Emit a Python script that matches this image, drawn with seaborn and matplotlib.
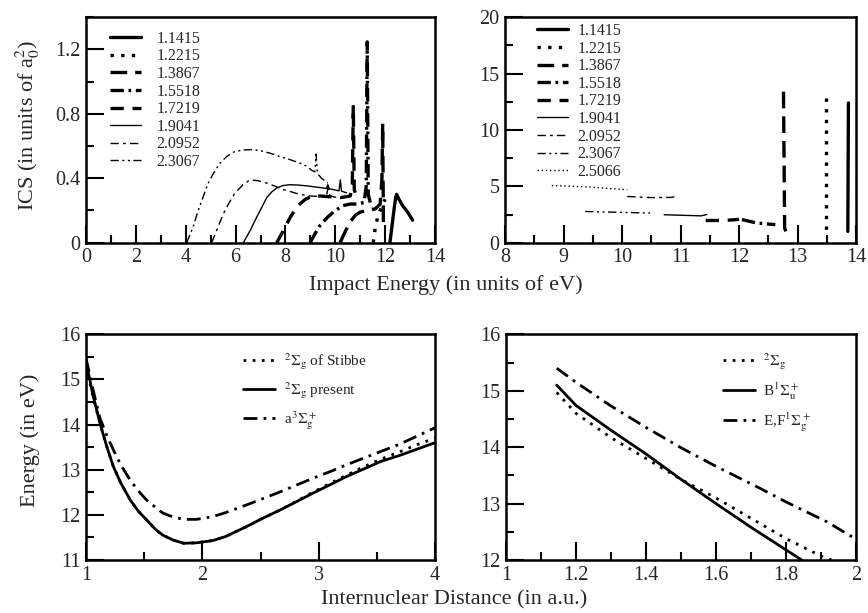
import matplotlib
matplotlib.use("Agg")
import matplotlib.pyplot as plt
import seaborn as sns
from matplotlib.ticker import MultipleLocator, FuncFormatter

sns.set_style("ticks")
plt.rcParams["font.family"] = ["Liberation Serif", "DejaVu Serif"]
plt.rcParams["mathtext.fontset"] = "stix"

# ---------------- data: top-left panel (ICS vs impact energy) ----------------
r_labels_tl = ["1.1415", "1.2215", "1.3867", "1.5518", "1.7219", "1.9041", "2.0952", "2.3067"]

tl_1_1415_x = [12.19, 12.27, 12.35, 12.42, 12.46, 12.55, 12.7, 12.9, 13.1]
tl_1_1415_y = [0.0, 0.1, 0.2, 0.28, 0.30, 0.27, 0.23, 0.19, 0.14]
tl_1_2215_x = [11.52, 11.6, 11.7, 11.8, 11.9, 12.0]
tl_1_2215_y = [0.0, 0.09, 0.16, 0.2, 0.24, 0.27]
tl_1_3867_x = [10.19, 10.4, 10.6, 10.8, 11.0, 11.3, 11.6, 11.8, 11.87, 11.9, 11.93]
tl_1_3867_y = [0.0, 0.07, 0.13, 0.17, 0.19, 0.2, 0.21, 0.24, 0.4, 0.74, 0.08]
tl_1_5518_x = [8.99, 9.2, 9.4, 9.7, 10.0, 10.3, 10.6, 10.9, 11.15, 11.24, 11.28, 11.32, 11.45]
tl_1_5518_y = [0.0, 0.06, 0.11, 0.16, 0.2, 0.23, 0.24, 0.24, 0.25, 0.35, 1.247, 0.3, 0.22]
tl_1_7219_x = [7.65, 7.9, 8.2, 8.5, 8.8, 9.1, 9.4, 9.8, 10.2, 10.6, 10.68, 10.72, 10.76, 10.9]
tl_1_7219_y = [0.0, 0.07, 0.16, 0.23, 0.27, 0.29, 0.29, 0.285, 0.28, 0.29, 0.35, 0.855, 0.33, 0.26]
tl_1_9041_x = [6.31, 6.6, 6.85, 7.05, 7.25, 7.45, 7.65, 7.9, 8.18, 8.5, 8.85, 9.25, 9.65,
               9.7, 9.75, 10.0, 10.15, 10.2, 10.25, 10.45]
tl_1_9041_y = [0.0, 0.08, 0.16, 0.22, 0.28, 0.315, 0.34, 0.355, 0.36, 0.358, 0.353, 0.345, 0.337,
               0.36, 0.335, 0.327, 0.322, 0.39, 0.32, 0.31]
tl_2_0952_x = [5.04, 5.3, 5.51, 5.75, 5.98, 6.3, 6.58, 6.9, 7.25, 7.6, 7.91, 8.25, 8.58, 9.0,
               9.39, 9.65, 9.72, 9.78, 10.19, 10.46]
tl_2_0952_y = [0.0, 0.1, 0.18, 0.25, 0.31, 0.36, 0.39, 0.385, 0.37, 0.35, 0.33, 0.315, 0.30, 0.29,
               0.287, 0.29, 0.36, 0.29, 0.277, 0.277]
tl_2_3067_x = [4.04, 4.3, 4.5, 4.71, 4.9, 5.11, 5.35, 5.64, 5.95, 6.31, 6.65, 6.98, 7.4, 7.78,
               8.2, 8.58, 8.85, 9.05, 9.18, 9.23, 9.28, 9.45, 9.7]
tl_2_3067_y = [0.0, 0.10, 0.2, 0.29, 0.37, 0.43, 0.49, 0.535, 0.565, 0.576, 0.578, 0.572, 0.555,
               0.535, 0.515, 0.494, 0.475, 0.45, 0.44, 0.551, 0.43, 0.40, 0.37]

# ---------------- data: top-right panel ----------------
r_labels_tr = ["1.1415", "1.2215", "1.3867", "1.5518", "1.7219", "1.9041", "2.0952", "2.3067", "2.5066"]

tr_1_1415_x = [13.87, 13.86]
tr_1_1415_y = [12.4, 1.0]
tr_1_2215_x = [13.49, 13.49]
tr_1_2215_y = [12.8, 1.15]
tr_1_3867_x = [12.76, 12.78, 12.80]
tr_1_3867_y = [13.4, 1.3, 1.0]
tr_1_5518_x = [12.05, 12.3, 12.62]
tr_1_5518_y = [2.05, 1.75, 1.6]
tr_1_7219_x = [11.43, 11.75, 12.0]
tr_1_7219_y = [1.97, 1.97, 2.07]
tr_1_9041_x = [10.72, 11.1, 11.35, 11.45]
tr_1_9041_y = [2.48, 2.42, 2.38, 2.5]
tr_2_0952_x = [10.09, 10.5, 10.85, 10.93]
tr_2_0952_y = [4.1, 4.0, 4.02, 4.12]
tr_2_3067_x = [9.37, 9.9, 10.48]
tr_2_3067_y = [2.77, 2.7, 2.63]
tr_2_5066_x = [8.8, 9.4, 10.09]
tr_2_5066_y = [5.07, 4.95, 4.7]

# ---------------- data: bottom-left panel (potential curves) ----------------
bl_r = [1.0, 1.06, 1.12, 1.18, 1.235, 1.3, 1.38, 1.45, 1.52, 1.6, 1.66, 1.75, 1.84, 1.95,
        2.09, 2.2, 2.38, 2.5, 2.67, 2.8, 2.95, 3.1, 3.24, 3.4, 3.53, 3.7, 3.85, 4.0]
bl_stibbe = [15.3, 14.62, 14.03, 13.5, 13.07, 12.7, 12.33, 12.08, 11.89, 11.67, 11.55, 11.44, 11.37, 11.38,
             11.43, 11.52, 11.74, 11.9, 12.11, 12.29, 12.5, 12.7, 12.88, 13.08, 13.23, 13.4, 13.56, 13.7]
bl_present = [15.4, 14.65, 14.03, 13.5, 13.07, 12.7, 12.33, 12.08, 11.89, 11.67, 11.55, 11.44, 11.37, 11.38,
              11.43, 11.52, 11.74, 11.9, 12.11, 12.28, 12.48, 12.67, 12.85, 13.03, 13.18, 13.32, 13.46, 13.6]
bl_triplet = [15.47, 14.78, 14.14, 13.75, 13.44, 13.1, 12.77, 12.53, 12.33, 12.16, 12.04, 11.95, 11.9, 11.9,
              11.96, 12.05, 12.22, 12.34, 12.51, 12.65, 12.81, 12.96, 13.11, 13.27, 13.4, 13.57, 13.75, 13.93]

# ---------------- data: bottom-right panel ----------------
br_r_sig = [1.145, 1.2, 1.3, 1.4, 1.5, 1.6, 1.7, 1.8, 1.9, 1.93]
br_sig = [14.97, 14.6, 14.17, 13.8, 13.43, 13.1, 12.74, 12.38, 12.07, 12.0]
br_r_B = [1.145, 1.2, 1.3, 1.4, 1.5, 1.6, 1.7, 1.8, 1.845]
br_B = [15.1, 14.74, 14.3, 13.88, 13.43, 13.0, 12.58, 12.18, 12.0]
br_r_EF = [1.145, 1.2, 1.3, 1.4, 1.5, 1.6, 1.726, 1.8, 1.916, 2.0]
br_EF = [15.4, 15.15, 14.73, 14.35, 13.99, 13.66, 13.27, 13.03, 12.68, 12.37]

# ---------------- styles ----------------
THICK = 2.4
THIN = 1.0
styles = {
    "1.1415": dict(lw=THICK, ls="-"),
    "1.2215": dict(lw=THICK, ls=(0, (1, 2.2))),
    "1.3867": dict(lw=THICK, ls=(0, (5, 2.4))),
    "1.5518": dict(lw=THICK, ls=(0, (4, 1.4, 0.8, 1.4))),
    "1.7219": dict(lw=THICK, ls=(0, (4, 2.6))),
    "1.9041": dict(lw=THIN, ls="-"),
    "2.0952": dict(lw=THIN, ls=(0, (6, 3, 2, 3))),
    "2.3067": dict(lw=THIN, ls=(0, (6, 2.5, 1.5, 2.5, 1.5, 2.5))),
    "2.5066": dict(lw=THIN, ls=(0, (1, 2))),
}

tl_series = {
    "1.1415": (tl_1_1415_x, tl_1_1415_y), "1.2215": (tl_1_2215_x, tl_1_2215_y),
    "1.3867": (tl_1_3867_x, tl_1_3867_y), "1.5518": (tl_1_5518_x, tl_1_5518_y),
    "1.7219": (tl_1_7219_x, tl_1_7219_y), "1.9041": (tl_1_9041_x, tl_1_9041_y),
    "2.0952": (tl_2_0952_x, tl_2_0952_y), "2.3067": (tl_2_3067_x, tl_2_3067_y),
}
tr_series = {
    "1.1415": (tr_1_1415_x, tr_1_1415_y), "1.2215": (tr_1_2215_x, tr_1_2215_y),
    "1.3867": (tr_1_3867_x, tr_1_3867_y), "1.5518": (tr_1_5518_x, tr_1_5518_y),
    "1.7219": (tr_1_7219_x, tr_1_7219_y), "1.9041": (tr_1_9041_x, tr_1_9041_y),
    "2.0952": (tr_2_0952_x, tr_2_0952_y), "2.3067": (tr_2_3067_x, tr_2_3067_y),
    "2.5066": (tr_2_5066_x, tr_2_5066_y),
}

fig = plt.figure(figsize=(8.68, 6.13), dpi=100)
ax_tl = fig.add_axes([0.0991, 0.6041, 0.4021, 0.3677])
ax_tr = fig.add_axes([0.5818, 0.6041, 0.4044, 0.3677])
ax_bl = fig.add_axes([0.0991, 0.0865, 0.4021, 0.3681])
ax_br = fig.add_axes([0.5829, 0.0865, 0.4032, 0.3681])


def fmt_num(v, pos):
    if abs(v - round(v)) < 1e-9:
        return "%d" % round(v)
    return ("%.1f" % v)


def style_ax(ax, xlim, ylim, xmaj, xmin, ymaj, ymin):
    ax.set_xlim(*xlim)
    ax.set_ylim(*ylim)
    ax.xaxis.set_major_locator(MultipleLocator(xmaj))
    ax.xaxis.set_minor_locator(MultipleLocator(xmin))
    ax.yaxis.set_major_locator(MultipleLocator(ymaj))
    ax.yaxis.set_minor_locator(MultipleLocator(ymin))
    ax.xaxis.set_major_formatter(FuncFormatter(fmt_num))
    ax.yaxis.set_major_formatter(FuncFormatter(fmt_num))
    ax.tick_params(which="both", direction="in", top=False, right=False, width=1.5, color="black")
    ax.tick_params(which="major", length=13, labelsize=14.5, pad=4)
    ax.tick_params(which="minor", length=6)
    for s in ax.spines.values():
        s.set_linewidth(1.8)
        s.set_color("black")
    ax.set_xlabel("")
    ax.set_ylabel("")


for lab in r_labels_tl:
    xs, ys = tl_series[lab]
    st = styles[lab]
    sns.lineplot(x=xs, y=ys, ax=ax_tl, color="black", linewidth=st["lw"], linestyle=st["ls"],
                 sort=False, estimator=None, label=lab)
for lab in r_labels_tr:
    xs, ys = tr_series[lab]
    st = styles[lab]
    sns.lineplot(x=xs, y=ys, ax=ax_tr, color="black", linewidth=st["lw"], linestyle=st["ls"],
                 sort=False, estimator=None, label=lab)

sns.lineplot(x=bl_r, y=bl_stibbe, ax=ax_bl, color="black", linewidth=2.0, linestyle=(0, (1, 2.3)),
             sort=False, estimator=None, label=r"$^2\Sigma_\mathrm{g}$ of Stibbe")
sns.lineplot(x=bl_r, y=bl_present, ax=ax_bl, color="black", linewidth=2.0, linestyle="-",
             sort=False, estimator=None, label=r"$^2\Sigma_\mathrm{g}$ present")
sns.lineplot(x=bl_r, y=bl_triplet, ax=ax_bl, color="black", linewidth=2.0, linestyle=(0, (5, 2.2, 1, 2.2)),
             sort=False, estimator=None, label=r"a$^3\Sigma_\mathrm{g}^+$")

sns.lineplot(x=br_r_sig, y=br_sig, ax=ax_br, color="black", linewidth=2.0, linestyle=(0, (1, 2.3)),
             sort=False, estimator=None, label=r"$^2\Sigma_\mathrm{g}$")
sns.lineplot(x=br_r_B, y=br_B, ax=ax_br, color="black", linewidth=2.0, linestyle="-",
             sort=False, estimator=None, label=r"B$^1\Sigma_\mathrm{u}^+$")
sns.lineplot(x=br_r_EF, y=br_EF, ax=ax_br, color="black", linewidth=2.0, linestyle=(0, (5, 2.2, 1, 2.2)),
             sort=False, estimator=None, label=r"E,F$^1\Sigma_\mathrm{g}^+$")

style_ax(ax_tl, (0, 14), (0, 1.4), 2, 1, 0.4, 0.2)
style_ax(ax_tr, (8, 14), (0, 20), 1, 0.5, 5, 2.5)
style_ax(ax_bl, (1, 4), (11, 16), 1, 0.5, 1, 0.5)
style_ax(ax_br, (1, 2), (12, 16), 0.2, 0.1, 1, 0.5)

leg_kw = dict(frameon=False, borderpad=0, borderaxespad=0, loc="upper left")
ax_tl.legend(fontsize=11.5, handlelength=1.95, handletextpad=0.95, labelspacing=0.1,
             bbox_to_anchor=(0.069, 0.94), **leg_kw)
ax_tr.legend(fontsize=11.5, handlelength=1.95, handletextpad=0.6, labelspacing=0.1,
             bbox_to_anchor=(0.09, 0.975), **leg_kw)
ax_bl.legend(fontsize=11, handlelength=2.1, handletextpad=0.55, labelspacing=0.55,
             bbox_to_anchor=(0.45, 0.925), **leg_kw)
ax_br.legend(fontsize=11, handlelength=2.1, handletextpad=0.5, labelspacing=0.55,
             bbox_to_anchor=(0.62, 0.925), **leg_kw)

fig.text(0.032, 0.796, r"ICS (in units of a$_0^2$)", rotation=90, ha="center", va="center", fontsize=16)
fig.text(0.0346, 0.282, "Energy (in eV)", rotation=90, ha="center", va="center", fontsize=16)
fig.text(0.5138, 0.535, "Impact Energy (in units of eV)", ha="center", va="center", fontsize=16)
fig.text(0.523, 0.0212, "Internuclear Distance (in a.u.)", ha="center", va="center", fontsize=16)

fig.savefig("out.png", dpi=100)
